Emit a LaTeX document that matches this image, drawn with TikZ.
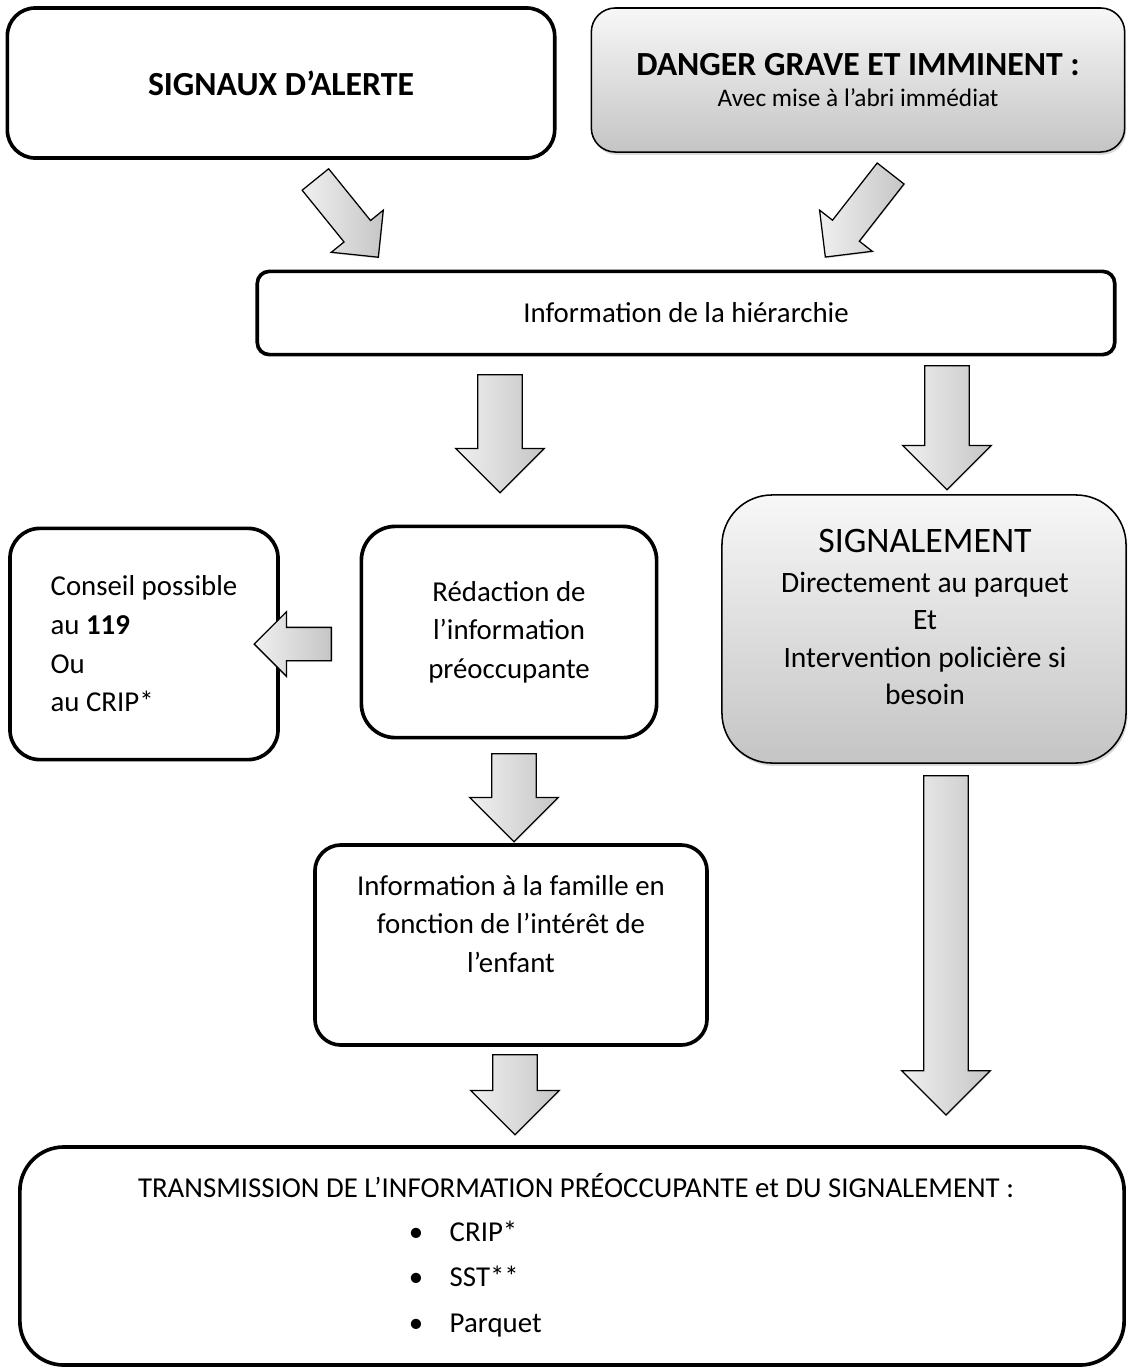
\documentclass[tikz,border=0pt]{standalone}
\usepackage{fontspec}
\setmainfont{Carlito}
\usetikzlibrary{shapes.arrows,shadows}
\begin{document}
\begin{tikzpicture}[x=0.025cm,y=-0.025cm,
        box/.style={draw,line width=2.6pt,rounded corners=#1,fill=white},
        box/.default=0.5cm,
        greybox/.style={draw,line width=1.1pt,rounded corners=#1,top color=gray!6,bottom color=gray!46,
            drop shadow={opacity=0.3,shadow xshift=1pt,shadow yshift=-2pt}},
        txt/.style={font=\fontsize{20.5}{27.5}\selectfont,align=center},
        blockarrow/.style={single arrow,draw,line width=0.9pt,left color=gray!12,right color=gray!45,
            minimum width=0pt,inner xsep=0pt,anchor=tail,minimum height=#1,
            drop shadow={opacity=0.2,shadow xshift=0.5pt,shadow yshift=-1pt}},
        diagarrow/.style={blockarrow=#1,inner ysep=0.41cm,single arrow head extend=0.41cm},
        downarrow/.style={blockarrow=#1,inner ysep=0.54cm,single arrow head extend=0.55cm,rotate=-90},
        sidearrow/.style={blockarrow=#1,inner ysep=0.4cm,single arrow head extend=0.39cm,rotate=180}]
    \useasboundingbox (0,0) rectangle (1128,1370);
    \node [box=0.7cm,minimum width=13.68cm,minimum height=3.75cm,font=\fontsize{24}{29}\selectfont\bfseries] (alerte) at (281,83) {SIGNAUX D’ALERTE};
    \node [greybox=0.6cm,minimum width=13.33cm,minimum height=3.6cm,align=center,font=\fontsize{18}{22}\selectfont] (danger) at (858,80) {{\fontsize{24}{22}\selectfont\bfseries DANGER GRAVE ET IMMINENT :}\\Avec mise à l’abri immédiat};
    \node [box=0.3cm,minimum width=21.43cm,minimum height=2.08cm,txt] (hier) at (686,313) {Information de la hiérarchie};
    \node [box=0.75cm,minimum width=6.7cm,minimum height=5.78cm,txt,align=left] (conseil) at (144,644) {Conseil possible\\au \textbf{119}\\Ou\\au CRIP*};
    \node [box=0.85cm,minimum width=7.38cm,minimum height=5.28cm,txt] (redac) at (509,632) {Rédaction de\\l’information\\préoccupante};
    \node [greybox=1.25cm,minimum width=10.1cm,minimum height=6.7cm] (signal) at (924,629) {};
    \node [txt,font=\fontsize{21}{26.5}\selectfont] (signaltxt) at (925,617) {{\fontsize{25.5}{26.5}\selectfont SIGNALEMENT}\\[2pt]Directement au parquet\\Et\\Intervention policière si\\besoin};
    \node [box=0.65cm,minimum width=9.8cm,minimum height=5.0cm] (famille) at (511,945) {};
    \node [txt] (familletxt) at (511,924) {Information à la famille en\\fonction de l’intérêt de\\l’enfant};
    \node [box=1.1cm,minimum width=27.6cm,minimum height=5.45cm] (trans) at (572,1256) {};
    \node [txt] (transtxt) at (576,1186) {TRANSMISSION DE L’INFORMATION PRÉOCCUPANTE et DU SIGNALEMENT :};
    \node [txt,align=left,anchor=west,font=\fontsize{20.5}{32.5}\selectfont] (liste) at (404,1279) {\makebox[29pt][l]{•}CRIP*\\\makebox[29pt][l]{•}SST**\\\makebox[29pt][l]{•}Parquet};
    \node [diagarrow=2.5cm,rotate=-51] (a1) at (315,179) {};
    \node [diagarrow=2.65cm,rotate=-128] (a2) at (891,173) {};
    \node [downarrow=2.95cm] (a3) at (500,374) {};
    \node [downarrow=3.1cm] (a4) at (947,365) {};
    \node [sidearrow=1.93cm] (a5) at (332,644) {};
    \node [downarrow=2.2cm] (a6) at (514,753) {};
    \node [downarrow=2.0cm] (a7) at (515,1054) {};
    \node [downarrow=8.48cm] (a8) at (946,775) {};
\end{tikzpicture}
\end{document}
